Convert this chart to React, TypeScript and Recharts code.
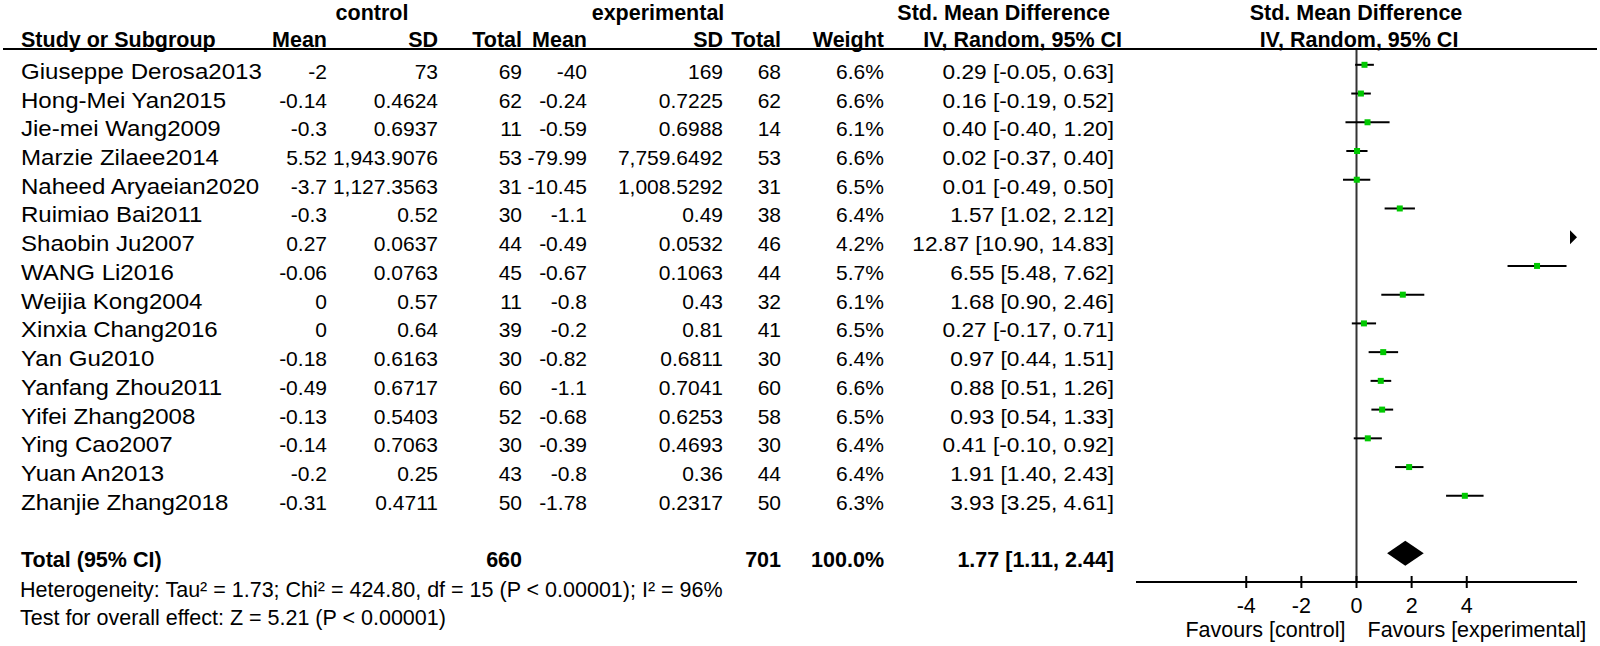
import React from 'react';
import { ScatterChart, Scatter, XAxis, YAxis, ReferenceLine, ReferenceArea } from 'recharts';

// ---------- data ----------
const studyNames = [
  'Giuseppe Derosa2013', 'Hong-Mei Yan2015', 'Jie-mei Wang2009', 'Marzie Zilaee2014',
  'Naheed Aryaeian2020', 'Ruimiao Bai2011', 'Shaobin Ju2007', 'WANG Li2016',
  'Weijia Kong2004', 'Xinxia Chang2016', 'Yan Gu2010', 'Yanfang Zhou2011',
  'Yifei Zhang2008', 'Ying Cao2007', 'Yuan An2013', 'Zhanjie Zhang2018',
];
const controlMean = [-2, -0.14, -0.3, 5.52, -3.7, -0.3, 0.27, -0.06, 0, 0, -0.18, -0.49, -0.13, -0.14, -0.2, -0.31];
const controlSD = [73, 0.4624, 0.6937, 1943.9076, 1127.3563, 0.52, 0.0637, 0.0763, 0.57, 0.64, 0.6163, 0.6717, 0.5403, 0.7063, 0.25, 0.4711];
const controlTotal = [69, 62, 11, 53, 31, 30, 44, 45, 11, 39, 30, 60, 52, 30, 43, 50];
const expMean = [-40, -0.24, -0.59, -79.99, -10.45, -1.1, -0.49, -0.67, -0.8, -0.2, -0.82, -1.1, -0.68, -0.39, -0.8, -1.78];
const expSD = [169, 0.7225, 0.6988, 7759.6492, 1008.5292, 0.49, 0.0532, 0.1063, 0.43, 0.81, 0.6811, 0.7041, 0.6253, 0.4693, 0.36, 0.2317];
const expTotal = [68, 62, 14, 53, 31, 38, 46, 44, 32, 41, 30, 60, 58, 30, 44, 50];
const weights = [6.6, 6.6, 6.1, 6.6, 6.5, 6.4, 4.2, 5.7, 6.1, 6.5, 6.4, 6.6, 6.5, 6.4, 6.4, 6.3];
const smd = [0.29, 0.16, 0.4, 0.02, 0.01, 1.57, 12.87, 6.55, 1.68, 0.27, 0.97, 0.88, 0.93, 0.41, 1.91, 3.93];
const ciLow = [-0.05, -0.19, -0.4, -0.37, -0.49, 1.02, 10.9, 5.48, 0.9, -0.17, 0.44, 0.51, 0.54, -0.1, 1.4, 3.25];
const ciHigh = [0.63, 0.52, 1.2, 0.4, 0.5, 2.12, 14.83, 7.62, 2.46, 0.71, 1.51, 1.26, 1.33, 0.92, 2.43, 4.61];

const totalControl = 660;
const totalExperimental = 701;
const totalWeight = 100.0;
const totalSmd = 1.77;
const totalLow = 1.11;
const totalHigh = 2.44;

const xDomain: [number, number] = [-8, 8];
const xTicks = [-4, -2, 0, 2, 4];
const heterogeneityText = 'Heterogeneity: Tau² = 1.73; Chi² = 424.80, df = 15 (P < 0.00001); I² = 96%';
const overallText = 'Test for overall effect: Z = 5.21 (P < 0.00001)';

// ---------- layout ----------
const W = 1600;
const H = 646;
const FONT = '"Liberation Sans", Arial, Helvetica, sans-serif';
const FS = 21.5;
const FS_NUM = 21;
const totalRow = studyNames.length + 1;
const axisRow = totalRow + 1;
const yDomain: [number, number] = [-0.55, axisRow];
const MARGIN = { top: 49, right: 23, bottom: 0, left: 1136 };
const X_AXIS_H = 64;
const plotH = H - MARGIN.top - MARGIN.bottom - X_AXIS_H;
// same linear mapping as the chart's Y axis, used to align the table text with the plot rows
const rowY = (i: number) => MARGIN.top + ((i - yDomain[0]) / (yDomain[1] - yDomain[0])) * plotH;

const COL = {
  name: 21,
  cMean: 327,
  cSD: 438,
  cTotal: 522,
  eMean: 587,
  eSD: 723,
  eTotal: 781,
  weight: 884,
  ci: 1114,
};
const NAME_STRETCH = 1.12;
const CI_STRETCH = 1.08;

const fmtSD = (v: number) => v.toLocaleString('en-US', { maximumFractionDigits: 4 });
const fmtCI = (m: number, l: number, h: number) => `${m.toFixed(2)} [${l.toFixed(2)}, ${h.toFixed(2)}]`;
const clampX = (v: number) => Math.max(xDomain[0], Math.min(xDomain[1], v));

const squareData = smd
  .map((v, i) => ({ x: v, y: i }))
  .filter((d) => d.x >= xDomain[0] && d.x <= xDomain[1]);
const arrowData = smd
  .map((v, i) => ({ x: clampX(v), y: i, over: ciLow[i] > xDomain[1] }))
  .filter((d) => d.over);

const stretchAt = (x0: number, s: number) => `translate(${x0},0) scale(${s},1) translate(${-x0},0)`;

function TableRow({ i }: { i: number }) {
  const by = rowY(i) + 14;
  return (
    <g>
      <g transform={stretchAt(COL.name, NAME_STRETCH)} fontSize={FS}>
        <text x={COL.name} y={by} textAnchor="start">{studyNames[i]}</text>
      </g>
      <text x={COL.cMean} y={by} textAnchor="end">{String(controlMean[i])}</text>
      <text x={COL.cSD} y={by} textAnchor="end">{fmtSD(controlSD[i])}</text>
      <text x={COL.cTotal} y={by} textAnchor="end">{controlTotal[i]}</text>
      <text x={COL.eMean} y={by} textAnchor="end">{String(expMean[i])}</text>
      <text x={COL.eSD} y={by} textAnchor="end">{fmtSD(expSD[i])}</text>
      <text x={COL.eTotal} y={by} textAnchor="end">{expTotal[i]}</text>
      <text x={COL.weight} y={by} textAnchor="end">{weights[i].toFixed(1)}%</text>
      <g transform={stretchAt(COL.ci, CI_STRETCH)}>
        <text x={COL.ci} y={by} textAnchor="end">{fmtCI(smd[i], ciLow[i], ciHigh[i])}</text>
      </g>
    </g>
  );
}

function AxisTick(props: any) {
  const { x, y, payload } = props;
  const v = payload.value as number;
  return (
    <g fontFamily={FONT} fontSize={FS} fill="#000">
      <line x1={x} x2={x} y1={y - 6} y2={y + 6} stroke="#000" strokeWidth={2} />
      <text x={x} y={y + 31} textAnchor="middle">{String(v)}</text>
      {v === 0 && (
        <>
          <text x={x - 11} y={y + 55} textAnchor="end">Favours [control]</text>
          <text x={x + 11} y={y + 55} textAnchor="start">Favours [experimental]</text>
        </>
      )}
    </g>
  );
}

const Square = (p: any) => (
  <rect x={p.cx - 3} y={p.cy - 3} width={6} height={6} fill="#00c800" />
);

const Arrow = (p: any) => (
  <polygon points={`${p.cx - 7},${p.cy - 7} ${p.cx},${p.cy} ${p.cx - 7},${p.cy + 7}`} fill="#000" />
);

const Diamond = (p: any) => {
  const { x, y, width, height } = p;
  const cx = x + (width * (totalSmd - totalLow)) / (totalHigh - totalLow);
  const cy = y + height / 2;
  return (
    <polygon
      points={`${x},${cy} ${cx},${y} ${x + width},${cy} ${cx},${y + height}`}
      fill="#000"
      stroke="none"
    />
  );
};

export default function App() {
  const txt = { fontFamily: FONT, fontSize: FS, fill: '#000' } as any;
  const tb = rowY(totalRow) + 14;
  const hy = 47;
  return (
    <div style={{ position: 'absolute', left: 0, top: 0, width: W, height: H, background: '#fff' }}>
      <ScatterChart width={W} height={H} margin={MARGIN}>
        <XAxis
          type="number"
          dataKey="x"
          domain={xDomain}
          allowDataOverflow
          ticks={xTicks}
          interval={0}
          height={X_AXIS_H}
          tickSize={0}
          tickMargin={0}
          tickLine={false}
          axisLine={{ stroke: '#000', strokeWidth: 2 }}
          tick={(p: any) => <AxisTick {...p} />}
        />
        <YAxis
          type="number"
          dataKey="y"
          domain={yDomain}
          allowDataOverflow
          reversed
          hide
          width={0}
        />
        <ReferenceLine x={0} stroke="#333" strokeWidth={2} />
        {smd.map((_, i) =>
          ciLow[i] <= xDomain[1] ? (
            <ReferenceLine
              key={`ci${i}`}
              segment={[
                { x: clampX(ciLow[i]), y: i },
                { x: clampX(ciHigh[i]), y: i },
              ]}
              stroke="#000"
              strokeWidth={2}
            />
          ) : null
        )}
        <ReferenceArea
          x1={totalLow}
          x2={totalHigh}
          y1={totalRow - 0.435}
          y2={totalRow + 0.435}
          shape={(p: any) => <Diamond {...p} />}
        />
        <Scatter data={squareData} shape={(p: any) => <Square {...p} />} isAnimationActive={false} />
        <Scatter data={arrowData} shape={(p: any) => <Arrow {...p} />} isAnimationActive={false} />
      </ScatterChart>
      <svg width={W} height={H} style={{ position: 'absolute', left: 0, top: 0, pointerEvents: 'none' }}>
        <g {...txt} fontWeight="bold">
          <text x={372} y={20} textAnchor="middle">control</text>
          <text x={658} y={20} textAnchor="middle">experimental</text>
          <text x={1110} y={20} textAnchor="end">Std. Mean Difference</text>
          <text x={1356} y={20} textAnchor="middle">Std. Mean Difference</text>
          <text x={COL.name} y={hy} textAnchor="start">Study or Subgroup</text>
          <text x={COL.cMean} y={hy} textAnchor="end">Mean</text>
          <text x={COL.cSD} y={hy} textAnchor="end">SD</text>
          <text x={COL.cTotal} y={hy} textAnchor="end">Total</text>
          <text x={COL.eMean} y={hy} textAnchor="end">Mean</text>
          <text x={COL.eSD} y={hy} textAnchor="end">SD</text>
          <text x={COL.eTotal} y={hy} textAnchor="end">Total</text>
          <text x={COL.weight} y={hy} textAnchor="end">Weight</text>
          <text x={1122} y={hy} textAnchor="end">IV, Random, 95% CI</text>
          <text x={1359} y={hy} textAnchor="middle">IV, Random, 95% CI</text>
        </g>
        <line x1={3} x2={1597} y1={49} y2={49} stroke="#000" strokeWidth={2} />
        <g {...txt} fontSize={FS_NUM}>
          {studyNames.map((_, i) => (
            <TableRow key={i} i={i} />
          ))}
        </g>
        <g {...txt} fontWeight="bold">
          <text x={COL.name} y={tb}>Total (95% CI)</text>
          <text x={COL.cTotal} y={tb} textAnchor="end">{totalControl}</text>
          <text x={COL.eTotal} y={tb} textAnchor="end">{totalExperimental}</text>
          <text x={COL.weight} y={tb} textAnchor="end">{totalWeight.toFixed(1)}%</text>
          <text x={COL.ci} y={tb} textAnchor="end">{fmtCI(totalSmd, totalLow, totalHigh)}</text>
        </g>
        <g {...txt}>
          <text x={20} y={597}>{heterogeneityText}</text>
          <text x={20} y={625}>{overallText}</text>
        </g>
      </svg>
    </div>
  );
}
